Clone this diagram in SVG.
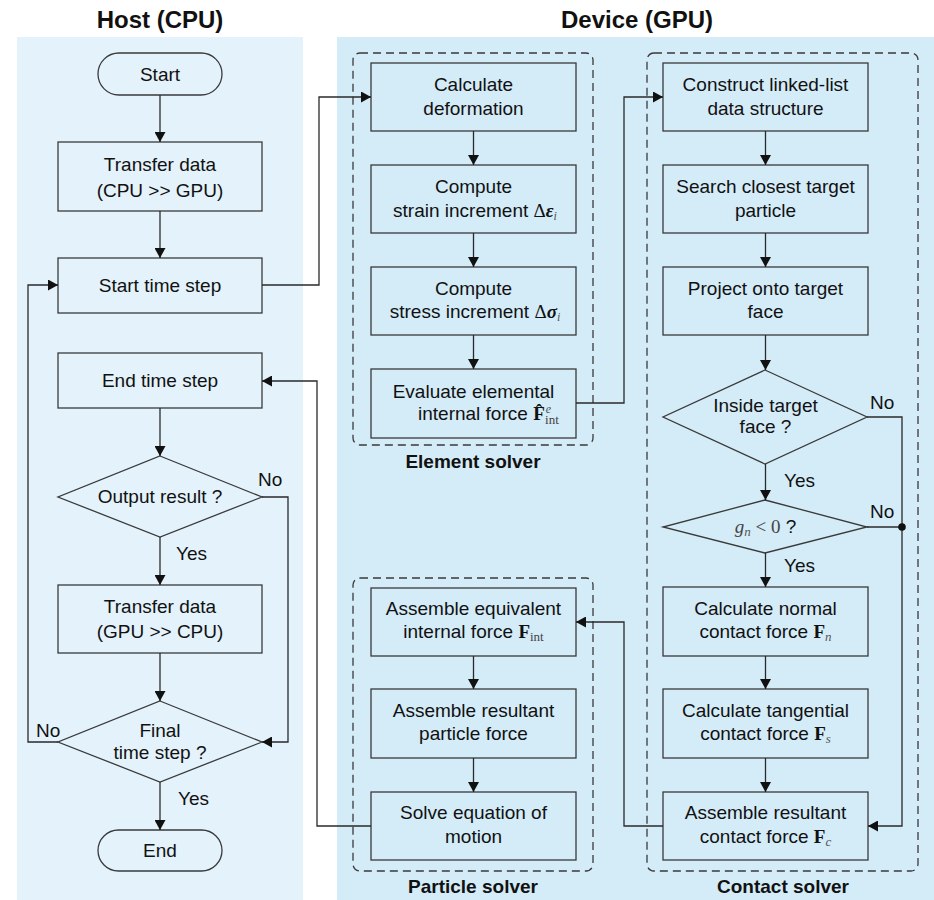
<svg xmlns="http://www.w3.org/2000/svg" width="934" height="900" viewBox="0 0 934 900">
  <style>
    .t { font-family: "Liberation Sans", Arial, sans-serif; font-size: 19px; fill: #111; text-anchor: middle; }
    .ts { font-family: "Liberation Sans", Arial, sans-serif; font-size: 19px; fill: #111; }
    .title { font-family: "Liberation Sans", Arial, sans-serif; font-size: 24px; font-weight: bold; fill: #111; text-anchor: middle; }
    .lab { font-family: "Liberation Sans", Arial, sans-serif; font-size: 19px; font-weight: bold; fill: #111; text-anchor: middle; }
    .box { fill: none; stroke: #3a3a3a; stroke-width: 1.3; }
    .grp { fill: none; stroke: #3a3a3a; stroke-width: 1.3; stroke-dasharray: 8 5; }
    .ln { fill: none; stroke: #2a2a2a; stroke-width: 1.3; }
    .m { font-family: "Liberation Serif", "Times New Roman", serif; }
    .mb { font-family: "Liberation Serif", "Times New Roman", serif; font-weight: bold; }
    .mi { font-family: "Liberation Serif", "Times New Roman", serif; font-style: italic; }
  </style>
  <defs>
    <marker id="arr" viewBox="0 0 10 11" refX="10" refY="5.5" markerWidth="10" markerHeight="11" markerUnits="userSpaceOnUse" orient="auto">
      <path d="M0,0 L10,5.5 L0,11 z" fill="#111"/>
    </marker>
  </defs>

  <rect width="934" height="900" fill="#ffffff"/>

  <!-- panels -->
  <rect x="17" y="37" width="286" height="863" fill="#e4f2fb"/>
  <rect x="337" y="37" width="597" height="863" fill="#d4ebf8"/>
  <text class="title" x="160" y="28">Host (CPU)</text>
  <text class="title" x="637" y="28">Device (GPU)</text>

  <!-- solver groups -->
  <g id="element-solver">
    <rect class="grp" x="353" y="53" width="240" height="392" rx="7"/>
    <text class="lab" x="473" y="468">Element solver</text>
  </g>
  <g id="particle-solver">
    <rect class="grp" x="353" y="578" width="240" height="293" rx="7"/>
    <text class="lab" x="473" y="893">Particle solver</text>
  </g>
  <g id="contact-solver">
    <rect class="grp" x="647" y="53" width="271" height="818" rx="7"/>
    <text class="lab" x="783" y="893">Contact solver</text>
  </g>

  <!-- host nodes -->
  <g id="start">
    <rect class="box" x="98" y="53" width="124" height="42" rx="21"/>
    <text class="t" x="160" y="81">Start</text>
  </g>
  <g id="transfer-to-gpu">
    <rect class="box" x="58" y="142" width="204" height="69"/>
    <text class="t" x="160" y="171">Transfer data</text>
    <text class="t" x="160" y="197">(CPU &gt;&gt; GPU)</text>
  </g>
  <g id="start-step">
    <rect class="box" x="58" y="258" width="204" height="55"/>
    <text class="t" x="160" y="292">Start time step</text>
  </g>
  <g id="end-step">
    <rect class="box" x="58" y="353" width="204" height="55"/>
    <text class="t" x="160" y="387">End time step</text>
  </g>
  <g id="output-result">
    <polygon class="box" points="160,456 262,497 160,537 58,497"/>
    <text class="t" x="160" y="503">Output result ?</text>
  </g>
  <g id="transfer-to-cpu">
    <rect class="box" x="58" y="585" width="204" height="68"/>
    <text class="t" x="160" y="613">Transfer data</text>
    <text class="t" x="160" y="638">(GPU &gt;&gt; CPU)</text>
  </g>
  <g id="final-step">
    <polygon class="box" points="160,701 262,742 160,782 58,742"/>
    <text class="t" x="160" y="737">Final</text>
    <text class="t" x="160" y="759">time step ?</text>
  </g>
  <g id="end">
    <rect class="box" x="98" y="830" width="124" height="41" rx="20.5"/>
    <text class="t" x="160" y="857">End</text>
  </g>

  <!-- element solver nodes -->
  <g id="calc-deformation">
    <rect class="box" x="371" y="63" width="205" height="68"/>
    <text class="t" x="473.5" y="91">Calculate</text>
    <text class="t" x="473.5" y="115">deformation</text>
  </g>
  <g id="strain-increment">
    <rect class="box" x="371" y="165" width="205" height="68"/>
    <text class="t" x="473.5" y="193">Compute</text>
    <text class="t" x="475" y="217">strain increment <tspan class="m">Δ</tspan><tspan class="mb" font-style="italic">ε</tspan><tspan class="mi" font-size="12" fill="#555" dy="3">i</tspan></text>
  </g>
  <g id="stress-increment">
    <rect class="box" x="371" y="267" width="205" height="68"/>
    <text class="t" x="473.5" y="295">Compute</text>
    <text class="t" x="475" y="318">stress increment <tspan class="m">Δ</tspan><tspan class="mb" font-style="italic">σ</tspan><tspan class="mi" font-size="12" fill="#555" dy="3">i</tspan></text>
  </g>
  <g id="elemental-force">
    <rect class="box" x="371" y="369" width="205" height="69"/>
    <text class="t" x="473.5" y="398">Evaluate elemental</text>
    <text class="ts" x="418" y="420">internal force <tspan class="mb">F&#x302;</tspan><tspan class="mi" font-size="12" fill="#555" dx="1" dy="-7">e</tspan><tspan class="m" font-size="13" fill="#444" dx="-6" dy="11">int</tspan></text>
  </g>

  <!-- particle solver nodes -->
  <g id="equivalent-force">
    <rect class="box" x="371" y="588" width="205" height="68"/>
    <text class="t" x="473.5" y="615">Assemble equivalent</text>
    <text class="t" x="473.5" y="638">internal force <tspan class="mb">F</tspan><tspan class="m" font-size="13" fill="#444" dy="3">int</tspan></text>
  </g>
  <g id="particle-force">
    <rect class="box" x="371" y="689" width="205" height="69"/>
    <text class="t" x="473.5" y="717">Assemble resultant</text>
    <text class="t" x="473.5" y="740">particle force</text>
  </g>
  <g id="equation-of-motion">
    <rect class="box" x="371" y="792" width="205" height="68"/>
    <text class="t" x="473.5" y="819">Solve equation of</text>
    <text class="t" x="473.5" y="843">motion</text>
  </g>

  <!-- contact solver nodes -->
  <g id="linked-list">
    <rect class="box" x="663" y="63" width="205" height="68"/>
    <text class="t" x="765.5" y="91">Construct linked-list</text>
    <text class="t" x="765.5" y="115">data structure</text>
  </g>
  <g id="closest-particle">
    <rect class="box" x="663" y="165" width="205" height="68"/>
    <text class="t" x="765.5" y="193">Search closest target</text>
    <text class="t" x="765.5" y="217">particle</text>
  </g>
  <g id="project-face">
    <rect class="box" x="663" y="267" width="205" height="68"/>
    <text class="t" x="765.5" y="295">Project onto target</text>
    <text class="t" x="765.5" y="318">face</text>
  </g>
  <g id="inside-face">
    <polygon class="box" points="765,370 867,417 765,464 663,417"/>
    <text class="t" x="765.5" y="412">Inside target</text>
    <text class="t" x="765.5" y="433">face ?</text>
  </g>
  <g id="gap-check">
    <polygon class="box" points="765,500 867,527 765,553 663,527"/>
    <text class="t" x="765.5" y="533"><tspan class="mi" fill="#444">g</tspan><tspan class="mi" font-size="13" fill="#555" dy="3">n</tspan><tspan class="m" fill="#444" dy="-3"> &lt; 0</tspan> ?</text>
  </g>
  <g id="normal-force">
    <rect class="box" x="663" y="587" width="205" height="69"/>
    <text class="t" x="765.5" y="615">Calculate normal</text>
    <text class="t" x="765.5" y="638">contact force <tspan class="mb">F</tspan><tspan class="mi" font-size="13" fill="#555" dy="3">n</tspan></text>
  </g>
  <g id="tangential-force">
    <rect class="box" x="663" y="689" width="205" height="69"/>
    <text class="t" x="765.5" y="717">Calculate tangential</text>
    <text class="t" x="765.5" y="740">contact force <tspan class="mb">F</tspan><tspan class="mi" font-size="13" fill="#555" dy="3">s</tspan></text>
  </g>
  <g id="contact-force">
    <rect class="box" x="663" y="792" width="205" height="68"/>
    <text class="t" x="765.5" y="819">Assemble resultant</text>
    <text class="t" x="765.5" y="843">contact force <tspan class="mb">F</tspan><tspan class="mi" font-size="13" fill="#555" dy="3">c</tspan></text>
  </g>

  <!-- connectors -->
  <g id="connectors">
    <line class="ln" x1="160" y1="95" x2="160" y2="142" marker-end="url(#arr)"/>
    <line class="ln" x1="160" y1="211" x2="160" y2="258" marker-end="url(#arr)"/>
    <line class="ln" x1="160" y1="408" x2="160" y2="456" marker-end="url(#arr)"/>
    <line class="ln" x1="160" y1="537" x2="160" y2="585" marker-end="url(#arr)"/>
    <line class="ln" x1="160" y1="653" x2="160" y2="701" marker-end="url(#arr)"/>
    <line class="ln" x1="160" y1="782" x2="160" y2="830" marker-end="url(#arr)"/>
    <polyline class="ln" points="262,497 288,497 288,742 262,742" marker-end="url(#arr)"/>
    <polyline class="ln" points="58,742 28,742 28,285 58,285" marker-end="url(#arr)"/>
    <polyline class="ln" points="262,285 319,285 319,97 371,97" marker-end="url(#arr)"/>
    <polyline class="ln" points="371,826 317,826 317,381 262,381" marker-end="url(#arr)"/>

    <line class="ln" x1="473.5" y1="131" x2="473.5" y2="165" marker-end="url(#arr)"/>
    <line class="ln" x1="473.5" y1="233" x2="473.5" y2="267" marker-end="url(#arr)"/>
    <line class="ln" x1="473.5" y1="335" x2="473.5" y2="369" marker-end="url(#arr)"/>
    <polyline class="ln" points="576,403 624,403 624,97 663,97" marker-end="url(#arr)"/>

    <line class="ln" x1="765.5" y1="131" x2="765.5" y2="165" marker-end="url(#arr)"/>
    <line class="ln" x1="765.5" y1="233" x2="765.5" y2="267" marker-end="url(#arr)"/>
    <line class="ln" x1="765.5" y1="335" x2="765.5" y2="370" marker-end="url(#arr)"/>
    <line class="ln" x1="765.5" y1="464" x2="765.5" y2="500" marker-end="url(#arr)"/>
    <line class="ln" x1="765.5" y1="553" x2="765.5" y2="587" marker-end="url(#arr)"/>
    <line class="ln" x1="765.5" y1="656" x2="765.5" y2="689" marker-end="url(#arr)"/>
    <line class="ln" x1="765.5" y1="758" x2="765.5" y2="792" marker-end="url(#arr)"/>
    <polyline class="ln" points="867,417 902,417 902,826 868,826" marker-end="url(#arr)"/>
    <line class="ln" x1="867" y1="527" x2="902" y2="527"/>
    <circle cx="902" cy="527" r="3.8" fill="#111"/>
    <polyline class="ln" points="663,826 624,826 624,622 576,622" marker-end="url(#arr)"/>

    <line class="ln" x1="473.5" y1="656" x2="473.5" y2="689" marker-end="url(#arr)"/>
    <line class="ln" x1="473.5" y1="758" x2="473.5" y2="792" marker-end="url(#arr)"/>
  </g>

  <!-- branch labels -->
  <g id="branch-labels">
    <text class="ts" x="258" y="486">No</text>
    <text class="ts" x="176" y="560">Yes</text>
    <text class="ts" x="36" y="737">No</text>
    <text class="ts" x="178" y="805">Yes</text>
    <text class="ts" x="870" y="409">No</text>
    <text class="ts" x="784" y="487">Yes</text>
    <text class="ts" x="870" y="518">No</text>
    <text class="ts" x="784" y="572">Yes</text>
  </g>
</svg>
